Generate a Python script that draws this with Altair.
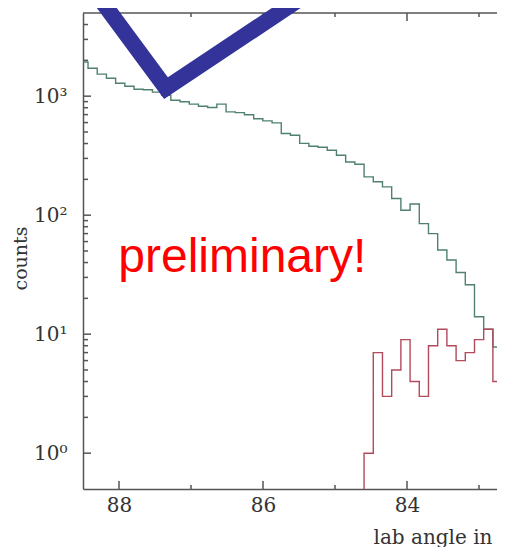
import altair as alt
import pandas as pd

# ---------------- data ----------------
X_DOMAIN = [82.75, 88.5]          # lab angle, axis runs high -> low
Y_DOMAIN = [0.5, 5000]            # counts, log
BIN_WIDTH = 0.1278
GREEN_FIRST_EDGE = 88.558         # upper edge of first (partly hidden) bin
RED_OFFSET = 31                   # red histogram starts at this green bin

green_counts = [1940, 1718, 1531, 1416, 1286, 1213, 1145, 1134, 1081, 1019,
                925, 899, 857, 824, 804, 857, 738, 727, 699, 647,
                620, 597, 486, 470, 401, 380, 372, 351, 319, 280,
                268, 210, 191, 173, 138, 110, 124, 85, 70, 51,
                42, 33, 26, 14, 11, 7.8, 7.1]
red_counts = [1, 7, 3, 5, 9, 4, 3, 8, 11, 8, 6, 7, 9, 11, 4, 7]

x_major = [88, 86, 84]
x_minor = [87, 85, 83]
y_major = [1, 10, 100, 1000]
y_major_labels = ["10⁰", "10¹", "10²", "10³"]
y_minor = [2, 3, 4, 5, 6, 7, 8, 9, 20, 30, 40, 50, 60, 70, 80, 90,
           200, 300, 400, 500, 600, 700, 800, 900, 2000, 3000, 4000]

# hand-drawn check mark annotation (data coordinates)
check_x = [88.455, 87.347, 85.097]
check_y = [9440, 1167, 9440]

note_text = "preliminary!"
note_x, note_y = 88.01, 33.2

W, H = 414, 476
AXIS_COL = "#555555"
LABEL_COL = "#333333"
SERIF = "DejaVu Serif"


def steps(first_edge, counts, lead):
    xs, ys = [], []
    if lead:
        xs.append(first_edge)
        ys.append(0.1)
    for k, c in enumerate(counts):
        hi = first_edge - k * BIN_WIDTH
        xs += [hi, hi - BIN_WIDTH]
        ys += [c, c]
    return pd.DataFrame({"x": xs, "y": ys, "i": range(len(xs))})


green_df = steps(GREEN_FIRST_EDGE, green_counts, False)
red_df = steps(GREEN_FIRST_EDGE - RED_OFFSET * BIN_WIDTH, red_counts, True)

label_expr = ""
for v, lab in zip(y_major, y_major_labels):
    label_expr += f"datum.value < {v * 1.5} ? '{lab}' : "
label_expr += "''"

xscale = alt.Scale(domain=X_DOMAIN, reverse=True, nice=False, zero=False)
yscale = alt.Scale(type="log", domain=Y_DOMAIN, nice=False)

xaxis = alt.Axis(values=x_major, format="d", ticks=False, grid=False,
                 domainColor=AXIS_COL, domainWidth=1.5,
                 labelFont=SERIF, labelFontSize=20, labelColor=LABEL_COL,
                 labelPadding=6, labelFlush=False,
                 title="lab angle in", titleFont=SERIF,
                 titleFontSize=20, titleFontWeight="normal",
                 titleColor=LABEL_COL, titleX=290, titleY=54,
                 titleAlign="left", titleBaseline="alphabetic",
                 titleAnchor="start")
yaxis = alt.Axis(values=y_major, labelExpr=label_expr, ticks=False,
                 grid=False, domainColor=AXIS_COL, domainWidth=1.5,
                 labelFont=SERIF, labelFontSize=20, labelColor=LABEL_COL,
                 labelPadding=16, labelFlush=False,
                 title="counts", titleFont=SERIF, titleFontSize=19,
                 titleFontWeight="normal", titleColor=LABEL_COL,
                 titleAngle=270, titleX=-63, titleY=245,
                 titleAlign="center", titleBaseline="middle")


def X(f):
    return alt.X(f, type="quantitative", scale=xscale, axis=xaxis)


def Y(f):
    return alt.Y(f, type="quantitative", scale=yscale, axis=yaxis)


tick_style = dict(color=AXIS_COL, strokeWidth=1.5)

top_border = alt.Chart(pd.DataFrame({"a": [0]})).mark_rule(**tick_style).encode(
    x=alt.value(0), x2=alt.value(W), y=alt.value(0))

top_major = alt.Chart(pd.DataFrame({"v": x_major})).mark_rule(**tick_style).encode(
    x=X("v"), y=alt.value(0), y2=alt.value(8))
top_minor = alt.Chart(pd.DataFrame({"v": x_minor})).mark_rule(**tick_style).encode(
    x=X("v"), y=alt.value(0), y2=alt.value(4))
bot_major = alt.Chart(pd.DataFrame({"v": x_major})).mark_rule(**tick_style).encode(
    x=X("v"), y=alt.value(H), y2=alt.value(H - 8))
bot_minor = alt.Chart(pd.DataFrame({"v": x_minor})).mark_rule(**tick_style).encode(
    x=X("v"), y=alt.value(H), y2=alt.value(H - 4))
left_major = alt.Chart(pd.DataFrame({"v": y_major})).mark_rule(**tick_style).encode(
    y=Y("v"), x=alt.value(0), x2=alt.value(8))
left_minor = alt.Chart(pd.DataFrame({"v": y_minor})).mark_rule(**tick_style).encode(
    y=Y("v"), x=alt.value(0), x2=alt.value(5))

green = alt.Chart(green_df).mark_line(color="#4f8070", strokeWidth=1.4,
                                      clip=True).encode(
    x=X("x"), y=Y("y"), order=alt.Order("i:Q"))
red = alt.Chart(red_df).mark_line(color="#b34a5c", strokeWidth=1.4,
                                  clip=True).encode(
    x=X("x"), y=Y("y"), order=alt.Order("i:Q"))

check_df = pd.DataFrame({"x": check_x, "y": check_y, "top": [max(check_y)] * 3,
                         "i": range(3)})
check_fill = alt.Chart(check_df).mark_area(color="white", opacity=1,
                                           clip=False).encode(
    x=X("x"), y=Y("y"), y2="top:Q", order=alt.Order("i:Q"))
check_line = alt.Chart(check_df).mark_line(color="#33339a", strokeWidth=16,
                                           strokeJoin="miter",
                                           strokeMiterLimit=10,
                                           clip=False).encode(
    x=X("x"), y=Y("y"), order=alt.Order("i:Q"))

note = alt.Chart(pd.DataFrame({"x": [note_x], "y": [note_y],
                               "t": [note_text]})).mark_text(
    align="left", baseline="alphabetic", font="Liberation Sans",
    fontSize=48, color="#ff0000").encode(x=X("x"), y=Y("y"), text="t:N")

chart = alt.layer(
    top_border, top_major, top_minor, bot_major, bot_minor,
    left_major, left_minor, green, red, check_fill, check_line, note
).properties(
    width=W, height=H,
    autosize=alt.AutoSizeParams(type="none"),
    padding={"left": 75, "top": 5, "right": 0, "bottom": 58},
    background="white",
).configure_view(stroke=None)

chart.save("out.html", embed_options={"renderer": "svg", "actions": False})
